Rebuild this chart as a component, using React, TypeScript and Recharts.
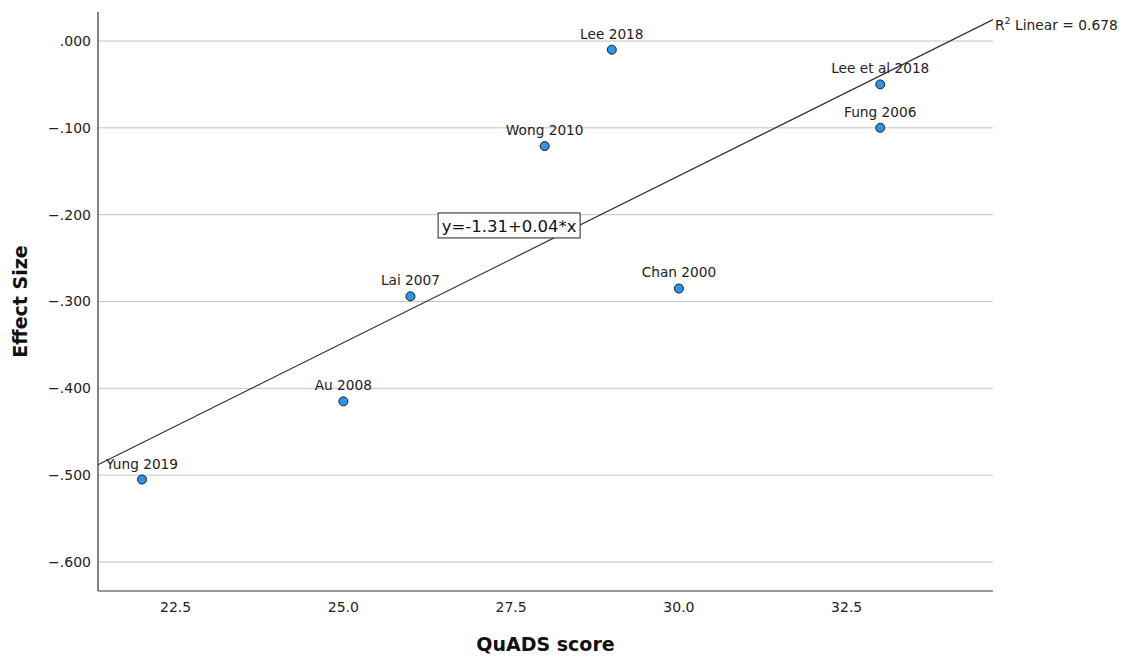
import { ScatterChart, Scatter, XAxis, YAxis, CartesianGrid, ReferenceLine, ReferenceDot } from "recharts";

const studies = ["Yung 2019", "Au 2008", "Lai 2007", "Wong 2010", "Lee 2018", "Chan 2000", "Lee et al 2018", "Fung 2006"];
const quadsScores = [22, 25, 26, 28, 29, 30, 33, 33];
const effectSizes = [-0.505, -0.415, -0.294, -0.121, -0.01, -0.285, -0.05, -0.1];

const xTicks = [22.5, 25, 27.5, 30, 32.5];
const yTicks = [0, -0.1, -0.2, -0.3, -0.4, -0.5, -0.6];
const xDomain = [21.344, 34.68];
const yDomain = [-0.6334, 0.0334];

const equationText = "y=-1.31+0.04*x";
const r2Text = "0.678";

const points = studies.map((name, i) => ({ name, x: quadsScores[i], y: effectSizes[i] }));

// least squares fit line
const n = points.length;
const mx = quadsScores.reduce((a, b) => a + b, 0) / n;
const my = effectSizes.reduce((a, b) => a + b, 0) / n;
let sxy = 0;
let sxx = 0;
points.forEach((p) => {
  sxy += (p.x - mx) * (p.y - my);
  sxx += (p.x - mx) * (p.x - mx);
});
const slope = sxy / sxx;
const intercept = my - slope * mx;
const fit = (x: number) => intercept + slope * x;

const font = "'DejaVu Sans', sans-serif";

const fmtY = (v: number) => {
  if (v === 0) return ".000";
  const s = Math.abs(v).toFixed(3).replace(/^0/, "");
  return (v < 0 ? "−" : "") + s;
};

const Dot = (props: any) => {
  const { cx, cy, payload } = props;
  return (
    <g>
      <circle cx={cx} cy={cy} r={4.5} fill="#2a95ea" stroke="#1c1c1c" strokeWidth={1} />
      <text x={cx} y={cy - 11} textAnchor="middle" fontSize={13.7} fontFamily={font} fill="#222">
        {payload.name}
      </text>
    </g>
  );
};

const EquationBox = (props: any) => {
  const { cx, cy } = props;
  return (
    <g>
      <rect x={cx - 71} y={cy - 13} width={142} height={25} fill="#fff" stroke="#222" strokeWidth={1} />
      <text x={cx} y={cy + 6} textAnchor="middle" fontSize={16.5} fontFamily={font} fill="#111">
        {equationText}
      </text>
    </g>
  );
};

const R2Label = (props: any) => {
  const { cx, cy } = props;
  return (
    <text x={cx + 2} y={cy + 10} fontSize={13.8} fontFamily={font} fill="#222">
      R<tspan dy={-6} fontSize={9.5}>2</tspan>
      <tspan dy={6}> Linear = {r2Text}</tspan>
    </text>
  );
};

export default function App() {
  return (
    <div style={{ position: "absolute", left: 0, top: 0, background: "#fff" }}>
      <ScatterChart width={1126} height={657} margin={{ top: 12, right: 133, bottom: 0, left: 0 }}>
        <CartesianGrid vertical={false} stroke="#c4c4c4" strokeWidth={1} syncWithTicks />
        <XAxis
          type="number"
          dataKey="x"
          domain={xDomain}
          ticks={xTicks}
          allowDataOverflow
          tickFormatter={(v: number) => v.toFixed(1)}
          tickLine={false}
          tickSize={0}
          tickMargin={11}
          height={66}
          axisLine={{ stroke: "#333", strokeWidth: 1.2 }}
          tick={{ fill: "#222", fontSize: 14, fontFamily: font }}
          label={{ value: "QuADS score", position: "insideBottom", offset: 6, fill: "#111", fontSize: 19, fontWeight: "bold", fontFamily: font }}
        />
        <YAxis
          type="number"
          dataKey="y"
          domain={yDomain}
          ticks={yTicks}
          allowDataOverflow
          tickFormatter={fmtY}
          tickLine={false}
          tickSize={0}
          tickMargin={7}
          width={98}
          axisLine={{ stroke: "#333", strokeWidth: 1.2 }}
          tick={{ fill: "#222", fontSize: 14, fontFamily: font }}
          label={{ value: "Effect Size", angle: -90, position: "insideLeft", offset: 20, fill: "#111", fontSize: 19, fontWeight: "bold", fontFamily: font, style: { textAnchor: "middle" } }}
        />
        <ReferenceLine
          segment={[
            { x: xDomain[0], y: fit(xDomain[0]) },
            { x: xDomain[1], y: fit(xDomain[1]) },
          ]}
          stroke="#333"
          strokeWidth={1.2}
          ifOverflow="visible"
        />
        <Scatter data={points} shape={<Dot />} isAnimationActive={false} />
        <ReferenceDot x={27.47} y={-0.213} r={0} shape={<EquationBox />} ifOverflow="visible" />
        <ReferenceDot x={xDomain[1]} y={fit(xDomain[1])} r={0} shape={<R2Label />} ifOverflow="visible" />
      </ScatterChart>
    </div>
  );
}
